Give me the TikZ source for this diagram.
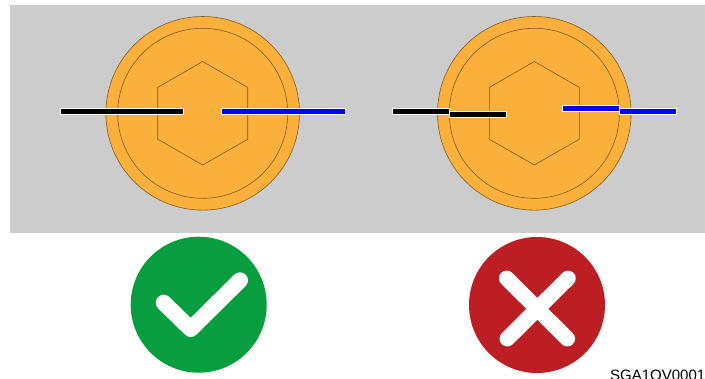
\documentclass[tikz,border=0pt]{standalone}
\usepackage{fontspec}
\setmainfont{Liberation Sans}
\definecolor{bgray}{HTML}{CCCCCC}
\definecolor{boltor}{HTML}{FBB03B}
\definecolor{okgreen}{HTML}{089E3F}
\definecolor{badred}{HTML}{BC1E24}
\tikzset{
  outline/.style={draw=boltor!50!black,line width=0.6pt},
  bolthead/.style={outline,fill=boltor},
  wirebar/.style={draw=white,line width=1pt},
  badge/.style={line cap=round,line join=round,draw=white},
  checkstroke/.style={badge,line width=16pt},
  crossstroke/.style={badge,line width=15.5pt}
}
\begin{document}
\begin{tikzpicture}[x=1pt,y=-1pt]
\useasboundingbox (0,0) rectangle (705,378);
\fill[bgray] (10,5) rectangle (705,232.5);
% left bolt
\draw[bolthead] (202.7,113.3) circle[radius=96.8];
\draw[outline] (202.7,113.3) circle[radius=85];
\draw[outline] (202.7,61.5) -- (247.7,87.4) -- (247.7,139.2) -- (202.7,165) -- (157.7,139.2) -- (157.7,87.4) -- cycle;
\filldraw[wirebar,fill=black] (60.3,108) rectangle (183.7,114);
\filldraw[wirebar,fill=blue] (221.7,108) rectangle (345,114);
% right bolt
\draw[bolthead] (534.3,113.3) circle[radius=96.8];
\draw[outline] (534.3,113.3) circle[radius=85];
\draw[outline] (534.3,61.5) -- (579.3,87.4) -- (579.3,139.2) -- (534.3,165) -- (489.3,139.2) -- (489.3,87.4) -- cycle;
\filldraw[wirebar,fill=black] (392,108.3) rectangle (449,114.3);
\filldraw[wirebar,fill=black] (449,111.7) rectangle (506.3,117.7);
\filldraw[wirebar,fill=blue] (619.3,108.3) rectangle (676.7,114.3);
\filldraw[wirebar,fill=blue] (562.3,105) rectangle (619.3,111);
% badges
\fill[okgreen] (198.7,304.7) circle[radius=68];
\draw[checkstroke] (163.7,302.7) -- (190.7,329) -- (240,280.3);
\fill[badred] (537,305) circle[radius=68];
\draw[crossstroke] (506.7,278.3) -- (567.3,338.7);
\draw[crossstroke] (568,278.3) -- (507.3,338.7);
\node[anchor=base west,inner sep=0pt,font=\fontsize{15}{17}\selectfont] (code) at (610,380) {SGA1QV0001};
\end{tikzpicture}
\end{document}
